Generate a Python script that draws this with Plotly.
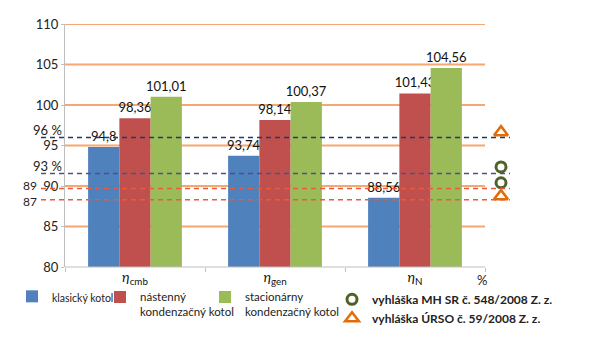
import plotly.graph_objects as go

# ---------------- data ----------------
categories = ["<i>η</i><sub>cmb</sub>", "<i>η</i><sub>gen</sub>", "<i>η</i><sub>N</sub>"]
series_names = ["klasický kotol", "nástenný<br>kondenzačný kotol", "stacionárny<br>kondenzačný kotol"]
klasicky = [94.8, 93.74, 88.56]
nastenny = [98.36, 98.14, 101.43]
stacionarny = [101.01, 100.37, 104.56]
series_colors = ["#4F81BD", "#C0504D", "#9BBB59"]

# reference levels (lines) as drawn in the picture
ref_levels = [96.0, 91.55, 89.7, 88.3]
ref_labels = ["96 %", "93 %", "89", "87"]
ref_colors = ["#1F3A6E", "#4A5282", "#EC5A3C", "#EC5A3C"]

# regulation markers
mh_name = "vyhláška MH SR č. 548/2008 Z. z."
mh_values = [92.35, 90.4]
urso_name = "vyhláška ÚRSO č. 59/2008 Z. z."
urso_values = [96.65, 88.75]

y_ticks = [80, 85, 90, 95, 100, 105, 110]
Y_MIN, Y_MAX = 80, 110

# ---------------- geometry helpers (pixels of 600x340 page) ----------------
L, R, T, B = 65, 515, 24, 267      # plot area (includes marker column on the right)
AX_R = 485                          # right end of category axis / gridlines
W, H = R - L, B - T
def px_x(x):
    return (x - L) / W
def px_y(y):
    return (B - y) / H
def val_y(v):
    return (v - Y_MIN) / (Y_MAX - Y_MIN)

FONT = "Lato, 'Open Sans', sans-serif"

def fmt(v):
    return ("%g" % v).replace(".", ",")

fig = go.Figure()
legend_ids = ["legend", "legend2", "legend3"]
for name, vals, col, lg in zip(series_names, [klasicky, nastenny, stacionarny], series_colors, legend_ids):
    fig.add_trace(go.Bar(
        x=categories, y=vals, name=name, marker=dict(color=col, line=dict(width=0)),
        text=[fmt(v) for v in vals], textposition="outside", constraintext="none",
        textfont=dict(family=FONT, size=13, color="#111111"),
        cliponaxis=False, legend=lg, showlegend=True,
    ))

marker_x = px_x(501)
fig.add_trace(go.Scatter(
    x=[marker_x] * len(mh_values), y=mh_values, xaxis="x2", yaxis="y", mode="markers",
    name=mh_name, cliponaxis=False, legend="legend4", showlegend=True,
    marker=dict(symbol="circle-open", size=10, color="#4F6228", line=dict(width=3, color="#4F6228")),
))
fig.add_trace(go.Scatter(
    x=[marker_x] * len(urso_values), y=urso_values, xaxis="x2", yaxis="y", mode="markers",
    name=urso_name, cliponaxis=False, legend="legend4", showlegend=True,
    marker=dict(symbol="triangle-up-open", size=12, color="#E36C0A", line=dict(width=2.5, color="#E36C0A")),
))

shapes = []
# orange gridlines (end at the category axis end)
for v in y_ticks[1:]:
    shapes.append(dict(type="line", xref="paper", yref="y", x0=0, x1=px_x(AX_R), y0=v, y1=v,
                       line=dict(color="#F6A870", width=2), layer="below"))
# x axis line
shapes.append(dict(type="line", xref="paper", yref="paper", x0=0, x1=px_x(AX_R), y0=0, y1=0,
                   line=dict(color="#BFBFBF", width=1), layer="above"))
# dashed reference lines
for v, c in zip(ref_levels, ref_colors):
    shapes.append(dict(type="line", xref="paper", yref="paper",
                       x0=px_x(41), x1=px_x(510), y0=val_y(v), y1=val_y(v),
                       line=dict(color=c, width=1.5, dash="5px,4px"), layer="above"))

annotations = []
ref_label_pos = [(63, 130), (63, 166), (38, 185.5), (38, 201)]
ref_label_size = [13, 13, 12, 12]
for txt, (xp, yp), fs in zip(ref_labels, ref_label_pos, ref_label_size):
    annotations.append(dict(text=txt, x=px_x(xp), y=px_y(yp), xref="paper", yref="paper",
                            xanchor="right", yanchor="middle", showarrow=False, borderpad=0,
                            font=dict(family=FONT, size=fs, color="#222222")))
annotations.append(dict(text="%", x=px_x(482), y=px_y(280), xref="paper", yref="paper",
                        xanchor="center", yanchor="middle", showarrow=False,
                        font=dict(family=FONT, size=13, color="#222222")))

leg_common = dict(bgcolor="rgba(0,0,0,0)", borderwidth=0, xanchor="left", yanchor="top",
                  valign="top", itemwidth=30, orientation="v", tracegroupgap=0, visible=True)

n_cat = len(categories)
cat_range = [-0.5, -0.5 + n_cat * W / (AX_R - L)]

fig.update_layout(
    width=600, height=340,
    margin=dict(l=L, r=600 - R, t=T, b=340 - B, autoexpand=False),
    paper_bgcolor="white", plot_bgcolor="white", showlegend=True,
    barmode="group", bargap=0.33, bargroupgap=0,
    font=dict(family=FONT, color="#222222"),
    xaxis=dict(showgrid=False, showline=False, range=cat_range,
               ticks="outside", tickson="boundaries", ticklen=4, tickcolor="#BFBFBF",
               tickfont=dict(family=FONT, size=14, color="#111111")),
    xaxis2=dict(overlaying="x", range=[0, 1], visible=False),
    yaxis=dict(range=[Y_MIN, Y_MAX], tickvals=y_ticks, showgrid=False,
               showline=True, linecolor="#BFBFBF", linewidth=1,
               ticks="outside", ticklen=3, tickcolor="#BFBFBF", zeroline=False,
               tickfont=dict(family=FONT, size=13, color="#222222")),
    shapes=shapes, annotations=annotations,
    legend=dict(x=px_x(12), y=px_y(283), font=dict(family=FONT, size=10.5, color="#222222"), **leg_common),
    legend2=dict(x=px_x(100), y=px_y(283), font=dict(family=FONT, size=11.5, color="#222222"), **leg_common),
    legend3=dict(x=px_x(205), y=px_y(283), font=dict(family=FONT, size=11.5, color="#222222"), **leg_common),
    legend4=dict(x=px_x(332), y=px_y(285), font=dict(family=FONT, size=12, color="#222222", weight="bold"), **leg_common),
)

fig.write_html("out.html")
